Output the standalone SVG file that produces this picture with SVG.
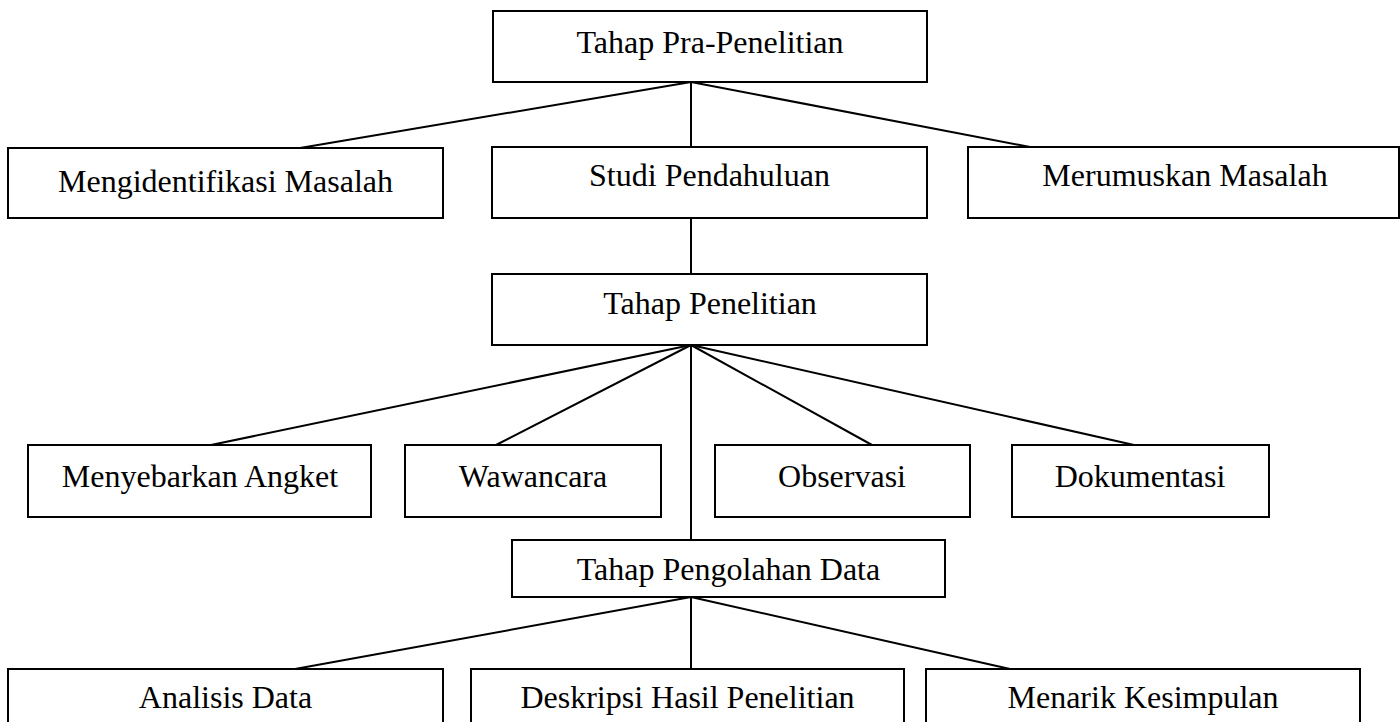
<svg xmlns="http://www.w3.org/2000/svg" width="1400" height="722" viewBox="0 0 1400 722">
<style>
.box{fill:#fff;stroke:#000;stroke-width:2}
.lbl{font-family:"Liberation Serif","Times New Roman",serif;font-size:32px;fill:#000;text-anchor:middle}
.conn line{stroke:#000;stroke-width:2}
</style>
<rect width="1400" height="722" fill="#fff"/>
<g class="conn" id="connectors">
<line x1="691" y1="82" x2="300" y2="148"/>
<line x1="691" y1="82" x2="691" y2="147"/>
<line x1="691" y1="82" x2="1030" y2="147"/>
<line x1="691" y1="218" x2="691" y2="274"/>
<line x1="691" y1="345" x2="211" y2="445"/>
<line x1="691" y1="345" x2="496" y2="445"/>
<line x1="691" y1="345" x2="872" y2="445"/>
<line x1="691" y1="345" x2="1134" y2="445"/>
<line x1="691" y1="345" x2="691" y2="540"/>
<line x1="691" y1="597" x2="295" y2="669"/>
<line x1="691" y1="597" x2="691" y2="669"/>
<line x1="691" y1="597" x2="1010" y2="669"/>
</g>
<g id="n-pra"><rect class="box" x="493" y="11" width="434" height="71"/><text class="lbl" x="710" y="53">Tahap Pra-Penelitian</text></g>
<g id="n-identifikasi"><rect class="box" x="8" y="148" width="435" height="70"/><text class="lbl" x="225.5" y="192">Mengidentifikasi Masalah</text></g>
<g id="n-studi"><rect class="box" x="492" y="147" width="435" height="71"/><text class="lbl" x="709.5" y="186">Studi Pendahuluan</text></g>
<g id="n-merumuskan"><rect class="box" x="968" y="147" width="431" height="71"/><text class="lbl" x="1185" y="186">Merumuskan Masalah</text></g>
<g id="n-penelitian"><rect class="box" x="492" y="274" width="435" height="71"/><text class="lbl" x="710" y="314">Tahap Penelitian</text></g>
<g id="n-angket"><rect class="box" x="28" y="445" width="343" height="72"/><text class="lbl" x="200" y="487">Menyebarkan Angket</text></g>
<g id="n-wawancara"><rect class="box" x="405" y="445" width="256" height="72"/><text class="lbl" x="533" y="487">Wawancara</text></g>
<g id="n-observasi"><rect class="box" x="715" y="445" width="255" height="72"/><text class="lbl" x="842" y="487">Observasi</text></g>
<g id="n-dokumentasi"><rect class="box" x="1012" y="445" width="257" height="72"/><text class="lbl" x="1140" y="487">Dokumentasi</text></g>
<g id="n-pengolahan"><rect class="box" x="512" y="540" width="433" height="57"/><text class="lbl" x="728.5" y="580">Tahap Pengolahan Data</text></g>
<g id="n-analisis"><rect class="box" x="8" y="669" width="435" height="70"/><text class="lbl" x="225.5" y="708">Analisis Data</text></g>
<g id="n-deskripsi"><rect class="box" x="471" y="669" width="433" height="70"/><text class="lbl" x="687.5" y="708">Deskripsi Hasil Penelitian</text></g>
<g id="n-kesimpulan"><rect class="box" x="926" y="669" width="434" height="70"/><text class="lbl" x="1143" y="708">Menarik Kesimpulan</text></g>
</svg>
